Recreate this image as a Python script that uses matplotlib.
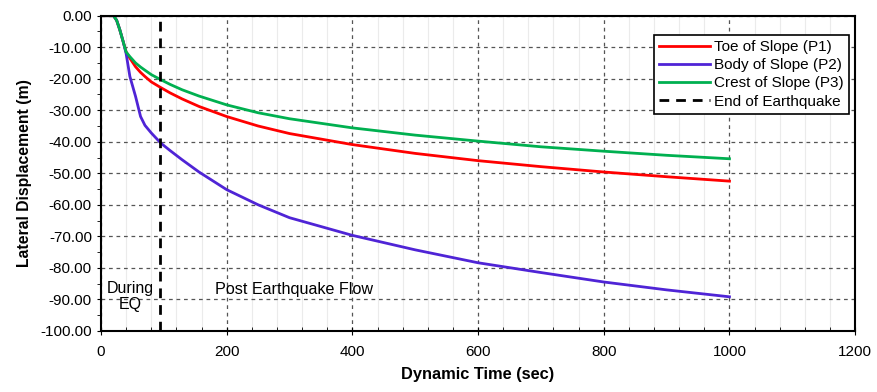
import matplotlib.pyplot as plt
from matplotlib.ticker import MultipleLocator, FormatStrFormatter

plt.rcParams['font.family'] = ['Liberation Sans', 'DejaVu Sans']

# data
time = [0, 20, 25, 30, 35, 40, 46, 55, 63, 70, 80, 95, 110, 129, 156, 200,
        250, 300, 400, 500, 600, 700, 800, 900, 1000]
toe = [0, 0, -1.5, -4.5, -8, -11.5, -13.5, -16.2, -18, -19.3, -21, -22.8,
       -24.5, -26.4, -28.8, -32.0, -35, -37.4, -40.9, -43.7, -46, -47.9,
       -49.6, -51.1, -52.5]
body = [0, 0, -1.5, -4.5, -8, -12, -19.3, -25.6, -32, -34.8, -37.2, -40.4,
        -42.8, -45.7, -49.6, -55.2, -60, -64.1, -69.7, -74.3, -78.4, -81.5,
        -84.5, -87, -89.2]
crest = [0, 0, -1.5, -4.5, -8, -11.5, -13, -15, -16.3, -17.3, -18.7, -20.3,
         -21.8, -23.5, -25.5, -28.3, -30.8, -32.7, -35.6, -37.9, -39.8, -41.6,
         -43.0, -44.3, -45.4]
eq_end = 94

fig = plt.figure(figsize=(8.78, 3.92), dpi=100)
ax = fig.add_axes([0.115, 0.156, 0.859, 0.804])

ax.plot(time, toe, color='#FF0000', lw=2, label='Toe of Slope (P1)')
ax.plot(time, body, color='#4F24D6', lw=2, label='Body of Slope (P2)')
ax.plot(time, crest, color='#00B050', lw=2, label='Crest of Slope (P3)')
ax.axvline(eq_end, color='black', lw=2, ls=(0, (3.5, 2.5)), label='End of Earthquake')

ax.set_xlim(0, 1200)
ax.set_ylim(-100, 0)
ax.xaxis.set_major_locator(MultipleLocator(200))
ax.xaxis.set_minor_locator(MultipleLocator(40))
ax.yaxis.set_major_locator(MultipleLocator(10))
ax.yaxis.set_minor_locator(MultipleLocator(5))
ax.yaxis.set_major_formatter(FormatStrFormatter('%.2f'))

ax.grid(which='major', color='#555555', ls=(0, (3, 3)), lw=0.9)
ax.grid(which='minor', axis='x', color='#EBEBEB', ls='-', lw=0.8)
ax.set_axisbelow(True)

ax.tick_params(axis='x', which='major', direction='inout', length=6, labelsize=11, pad=7)
ax.tick_params(axis='x', which='minor', direction='in', length=3)
ax.tick_params(axis='y', which='both', direction='out', length=3, labelsize=11)
for s in ax.spines.values():
    s.set_linewidth(1.5)
    s.set_color('black')

ax.set_xlabel('Dynamic Time (sec)', fontsize=11.8, fontweight='bold', labelpad=6)
ax.set_ylabel('Lateral Displacement (m)', fontsize=11.3, fontweight='bold', labelpad=6)

ax.text(47, -89, 'During\nEQ', ha='center', va='center', fontsize=11.5,
        linespacing=1.1)
ax.text(307, -87, 'Post Earthquake Flow', ha='center', va='center', fontsize=11.6)

leg = ax.legend(loc='upper right', bbox_to_anchor=(0.992, 0.94), fontsize=11,
                frameon=True, fancybox=False, edgecolor='black', framealpha=1,
                handlelength=3.3, borderpad=0.35, labelspacing=0.28,
                handletextpad=0.3, borderaxespad=0)
leg.get_frame().set_linewidth(1.2)

fig.savefig('out.png', dpi=100)
